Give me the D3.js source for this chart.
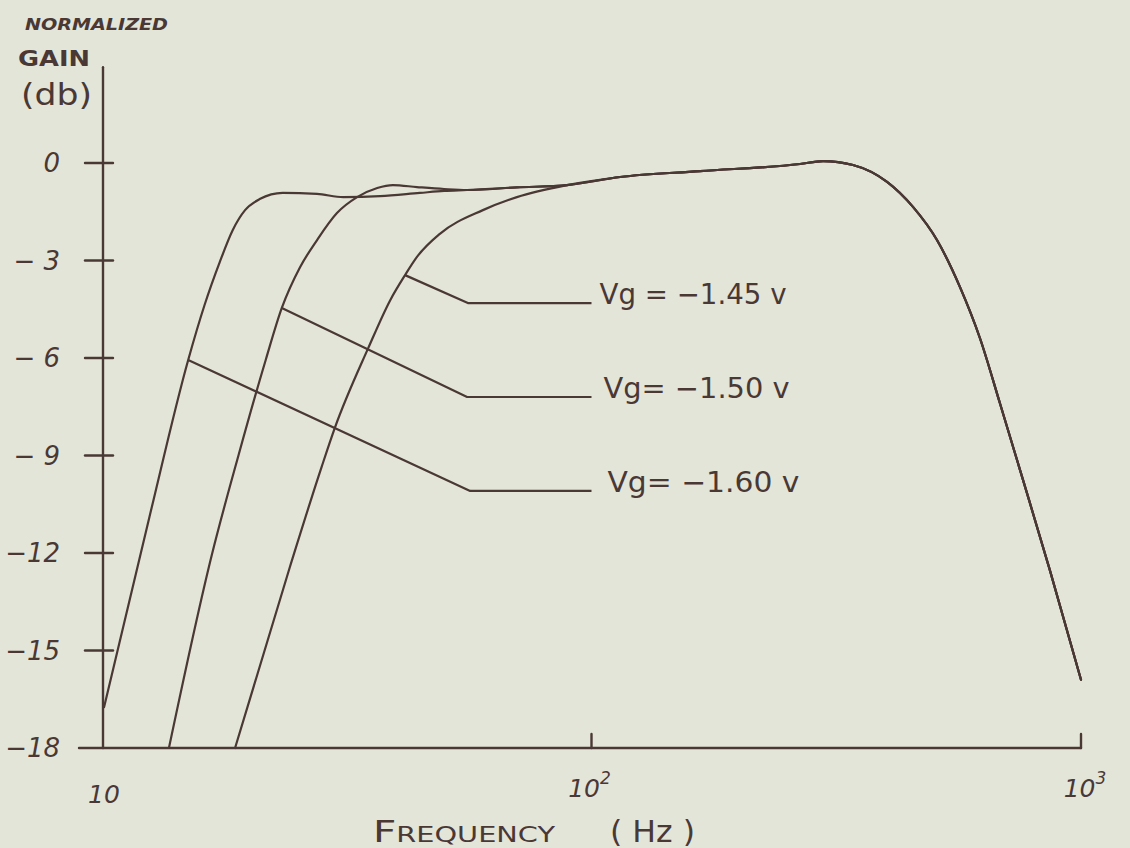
<!DOCTYPE html>
<html>
<head>
<meta charset="utf-8">
<script src="https://cdn.jsdelivr.net/npm/d3@7"></script>
<style>
  html, body { margin: 0; padding: 0; background: #e4e5d9; }
  svg { display: block; }
</style>
</head>
<body>
<svg id="chart" width="1130" height="848"></svg>
<script>
// Normalized gain (dB) versus frequency (Hz) for three gate voltages.

// Axis ticks
const freqTickValues = [10, 100, 1000];
const freqTickBase = ["10", "10", "10"];
const freqTickSup = ["", "2", "3"];
const gainTickValues = [0, -3, -6, -9, -12, -15, -18];
const gainTickLabels = ["0", "\u2212 3", "\u2212 6", "\u2212 9", "\u221212", "\u221215", "\u221218"];

// Series names
const seriesLabels = ["Vg = \u22121.45 v", "Vg= \u22121.50 v", "Vg= \u22121.60 v"];

// Low-frequency roll-off of each series (Hz, dB)
const freqVg145 = [18.7, 24.2, 28.1, 29.9, 35.0, 38.8, 41.6, 44.0, 49.0, 60.0, 70.4];
const gainVg145 = [-18.0, -12.43, -9.35, -8.15, -5.69, -4.22, -3.45, -2.89, -2.18, -1.45, -1.05];

const freqVg150 = [13.7, 16.8, 19.0, 21.6, 23.3, 25.4, 27.5, 30.2, 33.2, 36.5, 39.3, 44.0, 50.0];
const gainVg150 = [-18.0, -12.0, -9.0, -6.06, -4.46, -3.2, -2.37, -1.54, -1.05, -0.77, -0.68, -0.74, -0.8];

const freqVg160 = [10.1, 12.5, 15.0, 16.2, 17.4, 18.5, 19.6, 21.0, 23.4, 27.5, 31.1, 37.0, 44.6, 50.0];
const gainVg160 = [-16.74, -10.89, -6.06, -4.37, -3.05, -2.06, -1.45, -1.11, -0.92, -0.95, -1.05, -1.02, -0.92, -0.86];

// Mid-band and high-frequency response shared by all three series
const freqCommon = [55.7, 70.4, 89.1, 114.4, 166.6, 266.7, 297.2, 342.1, 401.6, 453.7, 507.9, 566.0, 622.0, 683.2, 761.2, 864.6, 1000];
const gainCommon = [-0.83, -0.75, -0.68, -0.43, -0.25, -0.03, 0.06, -0.06, -0.58, -1.35, -2.37, -3.82, -5.4, -7.4, -9.75, -12.55, -15.9];

// Leader lines from each curve to its label: curve point, elbow, end
const leaderFreq145 = [41.6, 55.9, 100];
const leaderGain145 = [-3.45, -4.31, -4.31];
const leaderFreq150 = [23.3, 55.7, 100];
const leaderGain150 = [-4.46, -7.2, -7.2];
const leaderFreq160 = [15.0, 56.5, 100];
const leaderGain160 = [-6.06, -10.09, -10.09];

const ink = "#4a3835";
const svg = d3.select("#chart");

const x = d3.scaleLog().domain([10, 1000]).range([102, 1081]);
const y = d3.scaleLinear().domain([-18, 0]).range([748, 163]);

function zipPts(fs, gs) { return fs.map((f, i) => ({ f: f, g: gs[i] })); }
function withTail(fs, gs) {
  const pts = zipPts(fs, gs);
  const last = fs[fs.length - 1];
  return pts.concat(zipPts(freqCommon, gainCommon).filter(p => p.f > last));
}

const series = [
  { label: seriesLabels[0], pts: withTail(freqVg145, gainVg145), leader: zipPts(leaderFreq145, leaderGain145), textLen: 187 },
  { label: seriesLabels[1], pts: withTail(freqVg150, gainVg150), leader: zipPts(leaderFreq150, leaderGain150), textLen: 186 },
  { label: seriesLabels[2], pts: withTail(freqVg160, gainVg160), leader: zipPts(leaderFreq160, leaderGain160), textLen: 192 }
];

const handFont = "'DejaVu Sans', sans-serif";

// Axes
const axes = svg.append("g").attr("stroke", ink).attr("stroke-width", 2.4).attr("fill", "none").attr("stroke-linecap", "round");
axes.append("line").attr("x1", x(10) + 1).attr("x2", x(10) + 1).attr("y1", y(2.95)).attr("y2", y(-18));
axes.append("line").attr("x1", x(10) - 23).attr("x2", x(1000)).attr("y1", y(-18)).attr("y2", y(-18));

// Gain ticks cross the vertical axis
axes.selectAll("line.gtick").data(gainTickValues.slice(0, -1)).join("line")
  .attr("class", "gtick")
  .attr("x1", x(10) - 17).attr("x2", x(10) + 11)
  .attr("y1", d => y(d)).attr("y2", d => y(d));

// Frequency ticks rise from the horizontal axis
axes.selectAll("line.ftick").data(freqTickValues.slice(1)).join("line")
  .attr("class", "ftick")
  .attr("x1", d => x(d)).attr("x2", d => x(d))
  .attr("y1", y(-18)).attr("y2", y(-18) - 14);

// Gain tick labels
svg.append("g").selectAll("text").data(gainTickValues).join("text")
  .attr("x", 60)
  .attr("y", d => y(d) + 9)
  .attr("text-anchor", "end")
  .attr("font-family", handFont)
  .attr("font-style", "italic")
  .attr("font-size", 26)
  .attr("fill", ink)
  .text((d, i) => gainTickLabels[i]);

// Frequency tick labels with exponents
const ftl = svg.append("g").selectAll("text").data(freqTickValues).join("text")
  .attr("x", (d, i) => x(d) + [2, -2, 4][i])
  .attr("y", (d, i) => [803, 797, 797][i])
  .attr("text-anchor", "middle")
  .attr("font-family", handFont)
  .attr("font-style", "italic")
  .attr("font-size", 25)
  .attr("fill", ink);
ftl.append("tspan").text((d, i) => freqTickBase[i]);
ftl.append("tspan").attr("dy", -13).attr("font-size", 17).text((d, i) => freqTickSup[i]);

// Axis titles
const yTitle = svg.append("g").attr("fill", ink).attr("font-family", handFont);
yTitle.append("text").attr("x", 25).attr("y", 30).attr("font-size", 16).attr("font-weight", "bold")
  .attr("font-style", "italic").attr("textLength", 143).attr("lengthAdjust", "spacingAndGlyphs").text("NORMALIZED");
yTitle.append("text").attr("x", 18).attr("y", 66).attr("font-size", 21).attr("font-weight", "bold")
  .attr("textLength", 72).attr("lengthAdjust", "spacingAndGlyphs").text("GAIN");
yTitle.append("text").attr("x", 21).attr("y", 105).attr("font-size", 30)
  .attr("textLength", 71).attr("lengthAdjust", "spacingAndGlyphs").text("(db)");

const xTitle = svg.append("g").attr("fill", ink).attr("font-family", handFont).attr("font-size", 31);
xTitle.append("text").attr("x", 373).attr("y", 842).attr("font-variant", "small-caps")
  .attr("textLength", 182).attr("lengthAdjust", "spacingAndGlyphs").text("Frequency");
xTitle.append("text").attr("x", 610).attr("y", 842)
  .attr("textLength", 85).attr("lengthAdjust", "spacingAndGlyphs").text("( Hz )");

// Response curves
const curveLine = d3.line().x(d => x(d.f)).y(d => y(d.g)).curve(d3.curveMonotoneX);
svg.append("g").selectAll("path").data(series).join("path")
  .attr("d", d => curveLine(d.pts))
  .attr("fill", "none")
  .attr("stroke", ink)
  .attr("stroke-width", 2.2)
  .attr("stroke-linejoin", "round")
  .attr("stroke-linecap", "round");

// Leader lines and series labels
const leaderLine = d3.line().x(d => x(d.f)).y(d => y(d.g));
const lg = svg.append("g");
lg.selectAll("path").data(series).join("path")
  .attr("d", d => leaderLine(d.leader))
  .attr("fill", "none")
  .attr("stroke", ink)
  .attr("stroke-width", 2.2)
  .attr("stroke-linejoin", "round");
lg.selectAll("text").data(series).join("text")
  .attr("x", (d, i) => x(d.leader[2].f) + [8, 12, 16][i])
  .attr("y", d => y(d.leader[2].g) + 1)
  .attr("font-family", handFont)
  .attr("font-size", 28)
  .attr("fill", ink)
  .attr("textLength", d => d.textLen)
  .attr("lengthAdjust", "spacingAndGlyphs")
  .text(d => d.label);
</script>
</body>
</html>
